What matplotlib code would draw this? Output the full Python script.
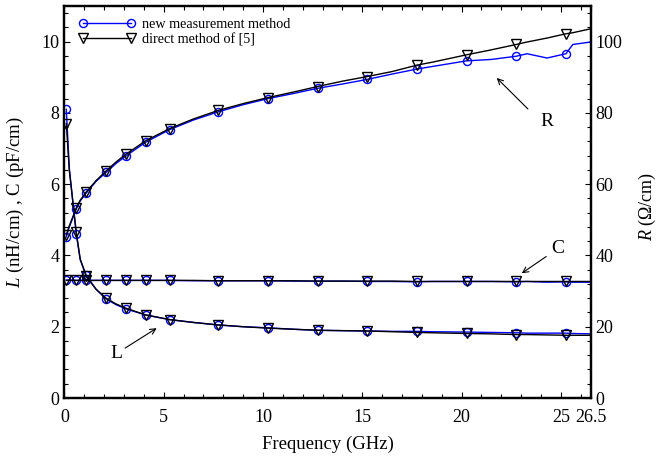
import matplotlib
matplotlib.use("Agg")
import matplotlib.pyplot as plt
from matplotlib.ticker import MultipleLocator, FixedLocator
from matplotlib.lines import Line2D

plt.rcParams['font.family'] = ['Liberation Serif', 'DejaVu Serif']
plt.rcParams['mathtext.fontset'] = 'custom'
plt.rcParams['mathtext.rm'] = 'Liberation Serif'
plt.rcParams['mathtext.it'] = 'Liberation Serif:italic'

# ---- data ----
freq = [0.1, 0.25, 0.6, 0.8, 1.1, 1.6, 2.1, 2.6, 3.1, 4.1, 5.3, 6.5, 7.75, 9.0, 10.25,
        11.5, 12.75, 14.0, 15.25, 16.5, 17.75, 18.5, 20.25, 21.5, 22.75, 23.3, 24.3,
        25.25, 25.6, 26.5]
marker_freq = [0.1, 0.6, 1.1, 2.1, 3.1, 4.1, 5.3, 7.75, 10.25, 12.75, 15.25, 17.75,
               20.25, 22.75, 25.25]

# direct method of [5] (black)
R_direct = [45.8, 48.3, 53.3, 55.5, 57.8, 61.0, 63.7, 66.2, 68.4, 72.2, 75.6, 78.3, 80.7,
            82.6, 84.3, 85.8, 87.4, 88.9, 90.2, 91.6, 93.4, 94.2, 96.3, 97.7, 99.2, 99.9,
            101.0, 102.2, 102.5, 103.6]
L_direct = [7.7, 6.4, 4.66, 3.9, 3.41, 3.05, 2.8, 2.64, 2.52, 2.33, 2.2, 2.12, 2.05, 2.0,
            1.96, 1.93, 1.9, 1.89, 1.88, 1.86, 1.84, 1.83, 1.81, 1.8, 1.78, 1.78, 1.77,
            1.76, 1.76, 1.76]
C_direct = [3.3, 3.3, 3.3, 3.3, 3.3, 3.3, 3.3, 3.3, 3.3, 3.3, 3.3, 3.3, 3.29, 3.29, 3.29,
            3.29, 3.28, 3.28, 3.28, 3.28, 3.27, 3.27, 3.27, 3.27, 3.27, 3.27, 3.27, 3.27,
            3.27, 3.27]

# new measurement method (blue)
R_new = [45.2, 48.0, 53.0, 55.3, 57.5, 60.8, 63.3, 65.8, 67.9, 71.8, 75.3, 78.0, 80.3,
         82.3, 84.0, 85.4, 86.9, 88.1, 89.4, 90.9, 92.3, 93.0, 94.6, 95.0, 95.9, 96.6,
         95.4, 96.6, 99.2, 99.9]
L_new = [8.1, 6.45, 4.6, 3.88, 3.45, 3.05, 2.78, 2.62, 2.5, 2.33, 2.2, 2.12, 2.05, 2.0,
         1.97, 1.93, 1.9, 1.89, 1.88, 1.87, 1.87, 1.86, 1.85, 1.84, 1.83, 1.82, 1.82,
         1.82, 1.81, 1.80]
C_new = [3.31, 3.31, 3.3, 3.3, 3.3, 3.3, 3.3, 3.3, 3.3, 3.3, 3.3, 3.29, 3.29, 3.29, 3.29,
         3.28, 3.28, 3.28, 3.27, 3.27, 3.26, 3.27, 3.27, 3.27, 3.26, 3.27, 3.25, 3.26,
         3.25, 3.25]

xtick_vals = [0, 5, 10, 15, 20, 25, 26.5]
xtick_labels = ['0', '5', '10', '15', '20', '25', '26.5']

mark_idx = [freq.index(m) for m in marker_freq]

fig = plt.figure(figsize=(6.57, 4.57), dpi=100)
ax = fig.add_axes([0.0979, 0.1291, 0.8012, 0.8578])
ax2 = ax.twinx()

blue = '#0000ff'
mk_new = dict(marker='o', markersize=5.8, markerfacecolor='none', markeredgecolor=blue,
              markeredgewidth=1.0, markevery=mark_idx)
mk_dir = dict(marker='v', markersize=6.5, markerfacecolor='none', markeredgecolor='black',
              markeredgewidth=1.0, markevery=mark_idx)

ax.plot(freq, L_new, color=blue, lw=1.0, **mk_new)
ax.plot(freq, C_new, color=blue, lw=1.0, **mk_new)
ax2.plot(freq, R_new, color=blue, lw=1.0, **mk_new)
ax.plot(freq, L_direct, color='black', lw=1.0, **mk_dir)
ax.plot(freq, C_direct, color='black', lw=1.0, **mk_dir)
ax2.plot(freq, R_direct, color='black', lw=1.0, **mk_dir)

ax.set_xlim(0, 26.5)
ax.set_ylim(0, 11)
ax2.set_ylim(0, 110)

ax.xaxis.set_major_locator(FixedLocator(xtick_vals))
ax.set_xticklabels(xtick_labels)
ax.xaxis.set_minor_locator(MultipleLocator(1))
ax.yaxis.set_major_locator(MultipleLocator(2))
ax.yaxis.set_minor_locator(MultipleLocator(0.4))
ax2.yaxis.set_major_locator(MultipleLocator(20))
ax2.yaxis.set_minor_locator(MultipleLocator(4))

ax.tick_params(which='both', direction='in', top=True, right=False, labelsize=13,
               width=0.8, color='black')
ax.tick_params(which='major', length=4)
ax.tick_params(which='minor', length=3)
ax.tick_params(axis='x', pad=8)
ax2.tick_params(which='both', direction='in', labelsize=13, width=0.8)
ax2.tick_params(which='major', length=4)
ax2.tick_params(which='minor', length=3)

for a in (ax, ax2):
    for s in a.spines.values():
        s.set_linewidth(1.6)

ax.set_xlabel('Frequency (GHz)', fontsize=13.5)
ax.xaxis.set_label_coords(0.5, -0.095)
ax.set_ylabel(r'$L$ (nH/cm) , C (pF/cm)', fontsize=13.5)
ax.yaxis.set_label_coords(-0.072, 0.5)
ax2.set_ylabel(r'$R$ ($\mathit{Ω}$/cm)', fontsize=13)
ax2.yaxis.set_label_coords(1.088, 0.49)

# annotations
arrow = dict(arrowstyle='->', color='black', lw=0.8, shrinkA=0, shrinkB=0)
ax.annotate('', xy=(21.77, 8.98), xytext=(23.34, 8.11), arrowprops=arrow)
ax.text(24.3, 7.76, 'R', fontsize=14, ha='center', va='center')
ax.annotate('', xy=(23.03, 3.5), xytext=(24.26, 3.97), arrowprops=arrow)
ax.text(24.85, 4.2, 'C', fontsize=14, ha='center', va='center')
ax.annotate('', xy=(4.65, 1.96), xytext=(3.06, 1.40), arrowprops=arrow)
ax.text(2.64, 1.26, 'L', fontsize=14, ha='center', va='center')

h_new = Line2D([], [], color=blue, lw=1.0, marker='o', markersize=5.8,
               markerfacecolor='none', markeredgecolor=blue)
h_dir = Line2D([], [], color='black', lw=1.0, marker='v', markersize=6.5,
               markerfacecolor='none', markeredgecolor='black')
ax.legend([h_new, h_dir], ['new measurement method', 'direct method of [5]'],
          loc='upper left', numpoints=2, frameon=False, fontsize=10.2,
          handlelength=4.0, handletextpad=0.5, labelspacing=0.15,
          borderaxespad=0.3, bbox_to_anchor=(0.008, 0.995))

fig.savefig('out.png', dpi=100)
